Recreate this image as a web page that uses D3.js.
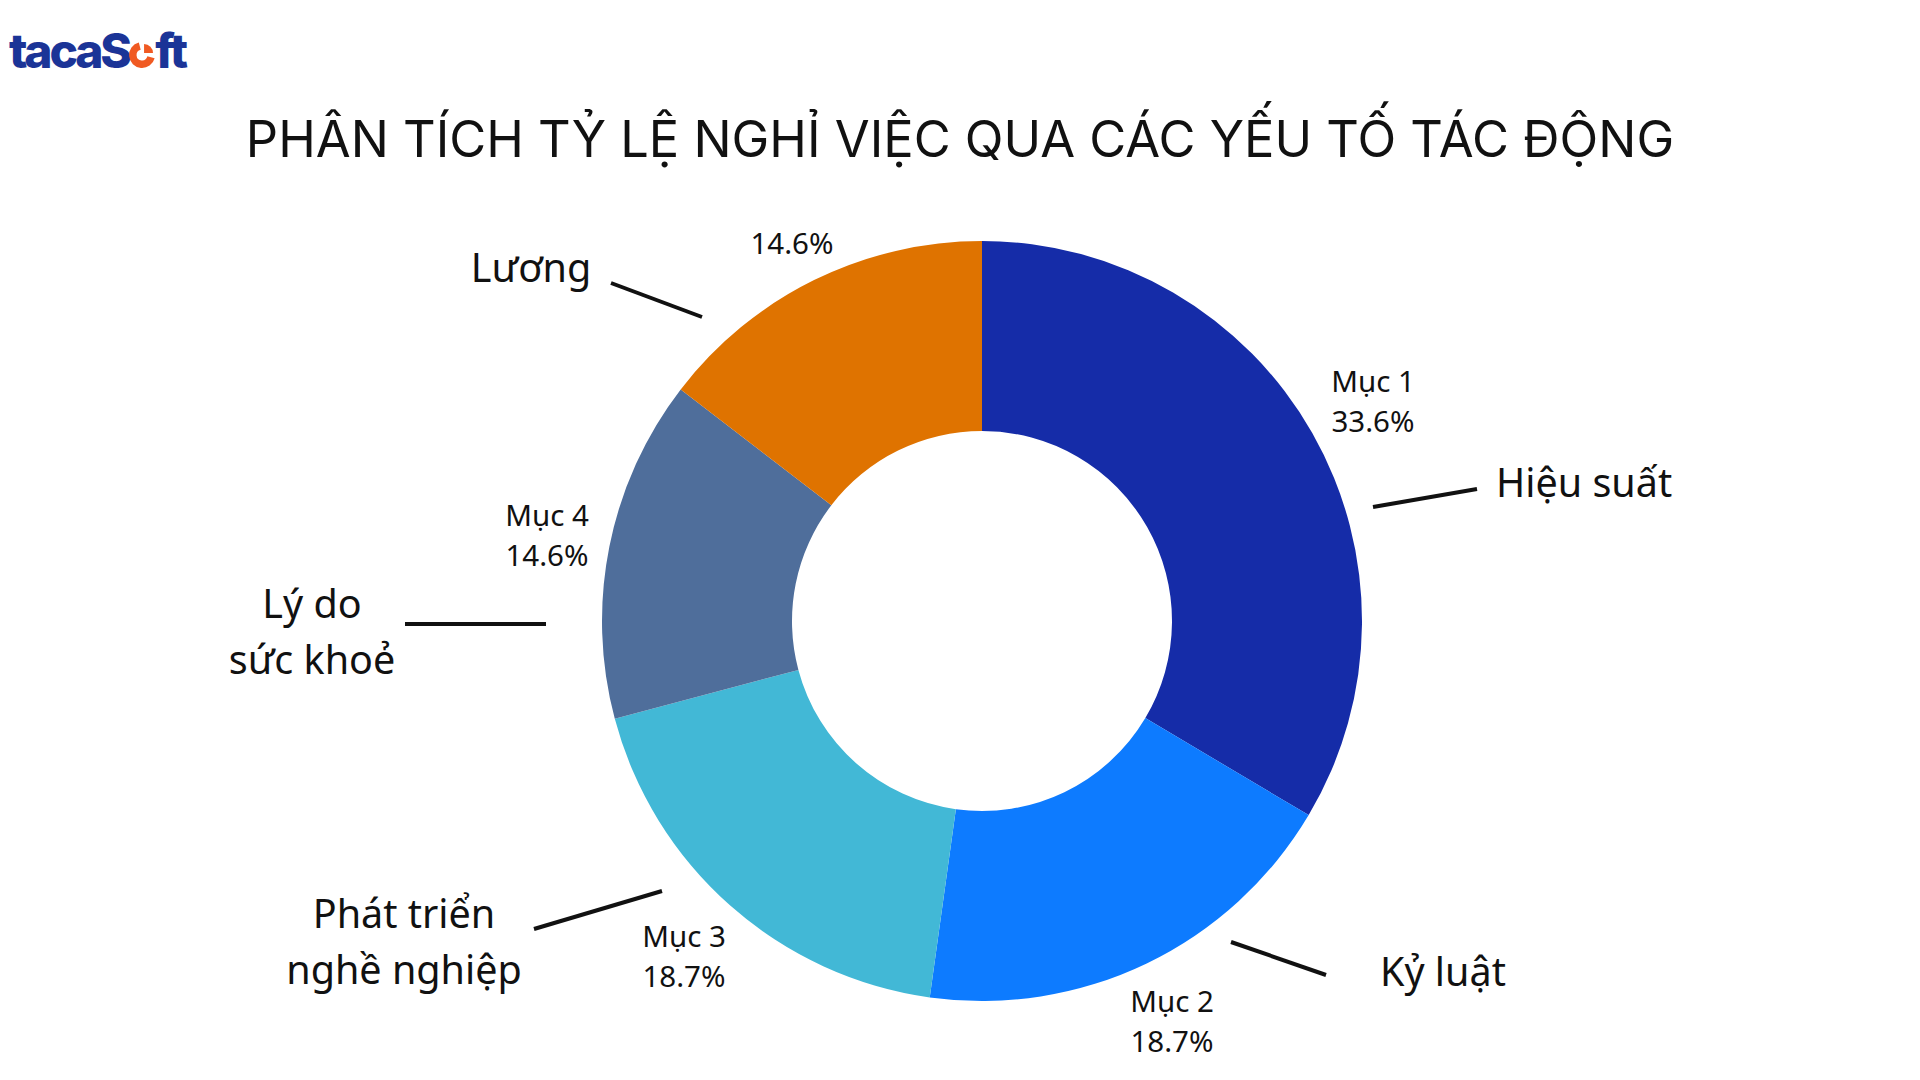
<!DOCTYPE html>
<html>
<head>
<meta charset="utf-8">
<script src="https://cdn.jsdelivr.net/npm/d3@7"></script>
<style>
  html, body { margin: 0; padding: 0; background: #fff; }
  svg { display: block; }
</style>
</head>
<body>
<svg id="chart" width="1920" height="1080"></svg>
<script>
// ---- data ----
const categories = ["Mục 1", "Mục 2", "Mục 3", "Mục 4", "Mục 5"];
const factors = ["Hiệu suất", "Kỷ luật", "Phát triển\nnghề nghiệp", "Lý do\nsức khoẻ", "Lương"];
const values = [33.6, 18.7, 18.7, 14.6, 14.6];
const showCategoryName = [true, true, true, true, false];
const colors = ["#152CA8", "#0D7BFF", "#42B8D6", "#4F6E9B", "#DF7300"];
const title = "PHÂN TÍCH TỶ LỆ NGHỈ VIỆC QUA CÁC YẾU TỐ TÁC ĐỘNG";

// ---- layout (positions only) ----
const W = 1920, H = 1080;
const cx = 982, cy = 621, rOuter = 380, rInner = 190;
const layout = [
  { val: [1373, 381], fac: [1496, 483], anchor: "start", line: [[1373, 507], [1477, 489]] },
  { val: [1172, 1001], fac: [1380, 972], anchor: "start", line: [[1231, 942], [1326, 975]] },
  { val: [684, 936], fac: [404, 914], anchor: "middle", line: [[534, 929], [662, 891]] },
  { val: [547, 515], fac: [312, 604], anchor: "middle", line: [[405, 624], [546, 624]] },
  { val: [792, 243], fac: [531, 268], anchor: "middle", line: [[611, 283], [702, 317]] }
];

const svg = d3.select("#chart");
const labelFont = "'Noto Sans', 'Open Sans', sans-serif";

// ---- logo ----
const logo = svg.append("g").attr("transform", "translate(9,68)");
const logoText = logo.append("text")
  .attr("font-family", "Inter, 'Noto Sans', sans-serif")
  .attr("font-weight", 800)
  .attr("font-size", 48)
  .attr("letter-spacing", -3.2)
  .attr("fill", "#1B3497");
logoText.append("tspan").text("tacaS");
logoText.append("tspan").attr("fill", "transparent").text("o");
logoText.append("tspan").text("ft");
{
  const ext = logoText.node().getExtentOfChar(5);
  const ox = ext.x + ext.width / 2, oy = -13, orad = 12;
  const arcO = d3.arc().innerRadius(orad - 6.5).outerRadius(orad + 1);
  logo.append("path").attr("transform", `translate(${ox},${oy})`)
    .attr("d", arcO({ startAngle: Math.PI / 2 + 0.25, endAngle: Math.PI * 2 - 0.25 }))
    .attr("fill", "#F05A22");
  logo.append("path").attr("transform", `translate(${ox + 2},${oy - 2})`)
    .attr("d", d3.arc().innerRadius(0).outerRadius(orad - 3)({ startAngle: 0, endAngle: Math.PI / 2 }))
    .attr("fill", "#F05A22");
}

// ---- title ----
svg.append("text")
  .attr("x", 960).attr("y", 157)
  .attr("text-anchor", "middle")
  .attr("font-family", "Inter, 'Noto Sans', sans-serif")
  .attr("font-size", 50.6)
  .attr("fill", "#111")
  .text(title);

// ---- donut ----
const pie = d3.pie().sort(null).value(d => d)(values);
const arc = d3.arc().innerRadius(rInner).outerRadius(rOuter);
const g = svg.append("g").attr("transform", `translate(${cx},${cy})`);
g.selectAll("path.slice").data(pie).join("path")
  .attr("class", "slice")
  .attr("d", arc)
  .attr("fill", (d, i) => colors[i]);

// ---- value labels ----
const fmt = d3.format(".1f");
values.forEach((v, i) => {
  const L = layout[i];
  const lines = showCategoryName[i] ? [categories[i], fmt(v) + "%"] : [fmt(v) + "%"];
  const t = svg.append("text")
    .attr("text-anchor", "middle")
    .attr("font-family", labelFont)
    .attr("font-size", 29.5)
    .attr("fill", "#111");
  const lh = 40;
  const y0 = L.val[1] + 11;
  lines.forEach((s, k) => {
    t.append("tspan").attr("x", L.val[0]).attr("y", y0 + k * lh).text(s);
  });
});

// ---- factor labels + leader lines ----
factors.forEach((f, i) => {
  const L = layout[i];
  const parts = f.split("\n");
  const t = svg.append("text")
    .attr("text-anchor", L.anchor)
    .attr("font-family", labelFont)
    .attr("font-size", 39.5)
    .attr("fill", "#111");
  parts.forEach((s, k) => {
    t.append("tspan").attr("x", L.fac[0]).attr("y", L.fac[1] + 14 + k * 56).text(s);
  });
  svg.append("line")
    .attr("x1", L.line[0][0]).attr("y1", L.line[0][1])
    .attr("x2", L.line[1][0]).attr("y2", L.line[1][1])
    .attr("stroke", "#111").attr("stroke-width", 4);
});
</script>
</body>
</html>
